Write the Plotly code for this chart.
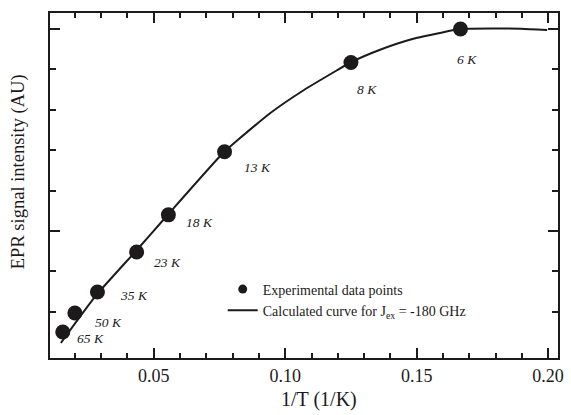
import plotly.graph_objects as go

# Experimental data
temps_K = [65, 50, 35, 23, 18, 13, 8, 6]
inv_T = [1 / t for t in temps_K]
intensity = [2.50, 2.97, 3.49, 4.48, 5.40, 6.96, 9.17, 10.0]
labels = [f"{t} K" for t in temps_K]
# label offsets (px) relative to each point
label_dx = [28, 34, 37, 31, 31, 33, 16, 7]
label_dy = [-7, -9, -4, -10, -8, -16, -27, -30]

# Calculated curve
curve_x = [0.01466, 0.02820, 0.04323, 0.05526, 0.07669, 0.08195, 0.09436,
           0.10714, 0.11955, 0.12481, 0.13583, 0.14838, 0.15838, 0.16628,
           0.17970, 0.18974, 0.19962]
curve_y = [2.228, 3.416, 4.505, 5.396, 6.955, 7.252, 7.921,
           8.490, 8.973, 9.171, 9.480, 9.752, 9.894, 10.0,
           10.012, 10.007, 9.975]

INK = "#1c1a1b"
FONT = "Times New Roman, Liberation Serif, serif"

fig = go.Figure()
# legend-only marker entry
fig.add_trace(go.Scatter(x=[None], y=[None], mode="markers",
                         marker=dict(size=9, color=INK),
                         name="Experimental data points"))
fig.add_trace(go.Scatter(x=curve_x, y=curve_y, mode="lines",
                         line=dict(color=INK, width=2, shape="spline", smoothing=0.5),
                         name="Calculated curve for J<sub>ex</sub> = -180 GHz"))
fig.add_trace(go.Scatter(x=inv_T, y=intensity, mode="markers",
                         marker=dict(size=15, color=INK),
                         showlegend=False))

for x, y, lab, dx, dy in zip(inv_T, intensity, labels, label_dx, label_dy):
    fig.add_annotation(x=x, y=y, text="<i>" + lab + "</i>", showarrow=False,
                       xshift=dx, yshift=dy,
                       font=dict(family=FONT, size=13.5, color=INK))

fig.add_annotation(xref="paper", yref="paper", x=0.529, y=-0.119,
                   yanchor="middle", text="1/T (1/K)", showarrow=False,
                   font=dict(family=FONT, size=20, color=INK))
fig.add_annotation(xref="paper", yref="paper", x=-0.062, y=0.54,
                   xanchor="center", yanchor="middle",
                   text="EPR signal intensity (AU)",
                   textangle=-90, showarrow=False,
                   font=dict(family=FONT, size=18.5, color=INK))

fig.update_layout(
    width=571, height=415,
    margin=dict(l=50, r=7, t=13, b=57),
    paper_bgcolor="white", plot_bgcolor="white",
    font=dict(family=FONT, color=INK),
    legend=dict(x=0.34, y=0.245, xanchor="left", yanchor="top",
                bgcolor="rgba(0,0,0,0)",
                font=dict(family=FONT, size=14, color=INK),
                tracegroupgap=0, itemwidth=30),
    xaxis=dict(range=[0.01053, 0.20376], tickmode="linear", tick0=0, dtick=0.05,
               tickformat=".2f", ticks="inside", ticklen=10, tickwidth=2,
               tickcolor=INK, showline=True, linewidth=2, linecolor=INK,
               mirror="allticks", showgrid=False, zeroline=False,
               tickfont=dict(family=FONT, size=18, color=INK),
               minor=dict(dtick=0.01, tick0=0, ticks="inside", ticklen=5,
                          tickwidth=2, tickcolor=INK, showgrid=False)),
    yaxis=dict(range=[1.856, 10.396], tickmode="array", tickvals=[5, 10],
               ticks="inside", ticklen=10, tickwidth=2, tickcolor=INK,
               showticklabels=False, showline=True, linewidth=2,
               linecolor=INK, mirror="allticks", showgrid=False,
               zeroline=False,
               minor=dict(tickmode="array", tickvals=[3, 4, 6, 7, 8, 9],
                          ticks="inside", ticklen=6, tickwidth=2,
                          tickcolor=INK, showgrid=False)),
)

fig.write_html("out.html")
